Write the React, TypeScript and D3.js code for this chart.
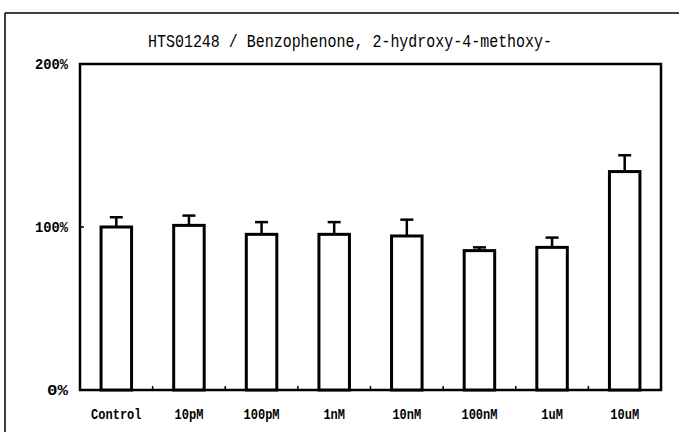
import React from "react";
import * as d3 from "d3";

const categories = ["Control", "10pM", "100pM", "1nM", "10nM", "100nM", "1uM", "10uM"];
const means = [100, 101, 95.5, 95.5, 94.5, 85.5, 87.5, 134];
const errors = [6, 6, 7.5, 7.5, 10, 2, 6, 10];
const yTicks = [0, 100, 200];
const title = "HTS01248 / Benzophenone, 2-hydroxy-4-methoxy-";

const W = 679;
const H = 432;
const M = { left: 80, right: 661, top: 64, bottom: 390 };

export default function App() {
  const x = d3.scaleBand<string>().domain(categories).range([M.left, M.right]).paddingInner(0.58).paddingOuter(0.29);
  const y = d3.scaleLinear().domain([0, 200]).range([M.bottom, M.top]);
  const bw = x.bandwidth();
  const font = "'Liberation Mono', 'DejaVu Sans Mono', monospace";
  const step = x.step();
  return (
    <svg width={W} height={H} style={{ position: "absolute", left: 0, top: 0, background: "#fff" }}>
      {/* outer frame */}
      <line x1={5} y1={13} x2={W} y2={13} stroke="#000" strokeWidth={1.5} />
      <line x1={5} y1={13} x2={5} y2={H} stroke="#000" strokeWidth={1.5} />
      {/* title */}
      <text x={350} y={47} textAnchor="middle" fontFamily={font} fontSize={19} textLength={404} lengthAdjust="spacingAndGlyphs" fill="#000">
        {title}
      </text>
      {/* plot frame */}
      <rect x={M.left} y={M.top} width={M.right - M.left} height={M.bottom - M.top} fill="#fff" stroke="#000" strokeWidth={2.5} />
      {/* y ticks */}
      {yTicks.map((t) => (
        <g key={t}>
          <line x1={M.left} x2={M.left + 4} y1={y(t)} y2={y(t)} stroke="#000" strokeWidth={1.5} />
          <text x={68} y={y(t) + 5} textAnchor="end" fontFamily={font} fontWeight="bold" fontSize={15} fill="#000" textLength={t === 0 ? 21 : 33} lengthAdjust="spacingAndGlyphs">
            {`${t}%`}
          </text>
        </g>
      ))}
      {/* x ticks between categories */}
      {categories.slice(1).map((c) => (
        <line key={"t" + c} x1={(x(c) as number) - (step - bw) / 2} x2={(x(c) as number) - (step - bw) / 2} y1={M.bottom} y2={M.bottom - 4} stroke="#000" strokeWidth={1.5} />
      ))}
      {/* bars */}
      {categories.map((c, i) => {
        const bx = x(c) as number;
        const cx = bx + bw / 2;
        const top = y(means[i]);
        const cap = y(means[i] + errors[i]);
        return (
          <g key={c}>
            <line x1={cx} x2={cx} y1={top} y2={cap} stroke="#000" strokeWidth={2.5} />
            <line x1={cx - 6.5} x2={cx + 6.5} y1={cap} y2={cap} stroke="#000" strokeWidth={2.5} />
            <rect x={bx} y={top} width={bw} height={M.bottom - top} fill="#fff" stroke="#000" strokeWidth={3} />
            <text x={cx} y={419} textAnchor="middle" fontFamily={font} fontWeight="bold" fontSize={15} fill="#000" textLength={c.length * 7.2} lengthAdjust="spacingAndGlyphs">
              {c}
            </text>
          </g>
        );
      })}
    </svg>
  );
}
